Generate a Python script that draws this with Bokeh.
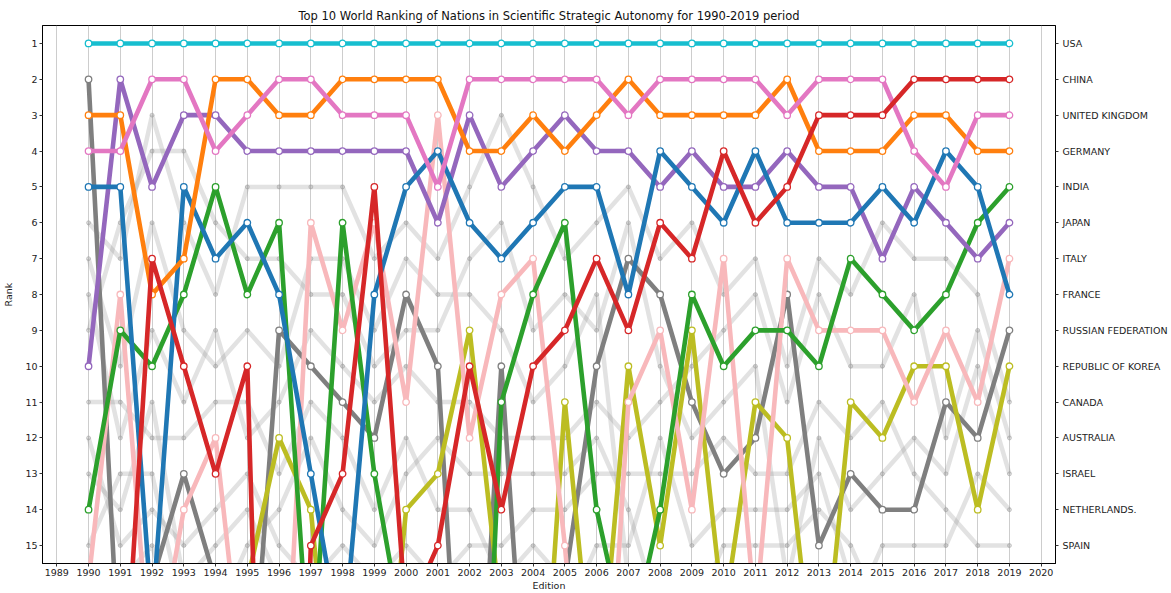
from bokeh.plotting import figure
from bokeh.models import Range1d, LinearAxis, FixedTicker
from bokeh.embed import file_html
from bokeh.resources import INLINE

years = [1990, 1991, 1992, 1993, 1994, 1995, 1996, 1997, 1998, 1999,
         2000, 2001, 2002, 2003, 2004, 2005, 2006, 2007, 2008, 2009,
         2010, 2011, 2012, 2013, 2014, 2015, 2016, 2017, 2018, 2019]

year_ticks = [1989, 1990, 1991, 1992, 1993, 1994, 1995, 1996, 1997, 1998, 1999, 2000,
              2001, 2002, 2003, 2004, 2005, 2006, 2007, 2008, 2009, 2010, 2011, 2012,
              2013, 2014, 2015, 2016, 2017, 2018, 2019, 2020]
rank_ticks = [1, 2, 3, 4, 5, 6, 7, 8, 9, 10, 11, 12, 13, 14, 15]
right_labels = ["USA", "CHINA", "UNITED KINGDOM", "GERMANY", "INDIA", "JAPAN", "ITALY",
                "FRANCE", "RUSSIAN FEDERATION", "REPUBLIC OF KOREA", "CANADA",
                "AUSTRALIA", "ISRAEL", "NETHERLANDS.", "SPAIN"]

# Top 10 (highlighted) ranks, 1990-2019
usa     = [1, 1, 1, 1, 1, 1, 1, 1, 1, 1, 1, 1, 1, 1, 1, 1, 1, 1, 1, 1, 1, 1, 1, 1, 1, 1, 1, 1, 1, 1]
china   = [22, 21, 7, 10, 13, 10, 40, 15, 13, 5, 17, 15, 10, 14, 10, 9, 7, 9, 6, 7, 4, 6, 5, 3, 3, 3, 2, 2, 2, 2]
uk      = [4, 4, 2, 2, 4, 3, 2, 2, 3, 3, 3, 5, 2, 2, 2, 2, 2, 3, 2, 2, 2, 2, 3, 2, 2, 2, 4, 5, 3, 3]
germany = [3, 3, 8, 7, 2, 2, 3, 3, 2, 2, 2, 2, 4, 4, 3, 4, 3, 2, 3, 3, 3, 3, 2, 4, 4, 4, 3, 3, 4, 4]
india   = [14, 9, 10, 8, 5, 8, 6, 19, 6, 13, 18, 25, 30, 11, 8, 6, 14, 18, 14, 8, 10, 9, 9, 10, 7, 8, 9, 8, 6, 5]
japan   = [10, 2, 5, 3, 3, 4, 4, 4, 4, 4, 4, 6, 3, 5, 4, 3, 4, 4, 5, 4, 5, 5, 4, 5, 5, 7, 5, 6, 7, 6]
italy   = [16, 8, 19, 14, 12, 20, 23, 6, 9, 6, 11, 3, 12, 8, 7, 15, 25, 11, 9, 14, 7, 17, 7, 9, 9, 9, 11, 9, 11, 7]
france  = [5, 5, 17, 5, 7, 6, 8, 13, 18, 8, 5, 4, 6, 7, 6, 5, 5, 8, 4, 5, 6, 4, 6, 6, 6, 5, 6, 4, 5, 8]
russia  = [2, 19, 16, 13, 16, 21, 9, 10, 11, 12, 8, 10, 25, 10, 23, 16, 10, 7, 8, 11, 13, 12, 8, 15, 13, 14, 14, 11, 12, 9]
korea   = [24, 22, 21, 19, 18, 16, 12, 14, 23, 23, 14, 13, 9, 17, 24, 11, 20, 10, 15, 9, 17, 11, 12, 20, 11, 12, 10, 10, 14, 10]

# Other nations (grey background), 1990-2019
canada      = [6, 7, 3, 6, 8, 5, 5, 5, 5, 7, 6, 7, 5, 3, 5, 7, 6, 5, 7, 6, 8, 7, 10, 7, 8, 6, 7, 7, 8, 11]
australia   = [8, 12, 9, 11, 9, 12, 11, 9, 10, 11, 10, 11, 11, 12, 12, 12, 11, 12, 11, 10, 9, 8, 11, 8, 10, 10, 8, 12, 9, 12]
sweden      = [9, 6, 4, 4, 6, 7, 7, 8, 8, 10, 9, 9, 7, 6, 9, 8, 9, 6, 10, 12, 11, 10, 16, 17, 18, 17, 16, 17, 17, 16]
netherlands = [7, 10, 6, 9, 10, 9, 10, 7, 7, 9, 7, 8, 8, 9, 11, 10, 8, 16, 16, 17, 16, 17, 17, 16, 17, 15, 15, 15, 13, 14]
spain       = [12, 15, 14, 15, 14, 13, 15, 16, 15, 16, 15, 16, 15, 15, 14, 14, 13, 13, 13, 13, 12, 13, 13, 11, 12, 11, 13, 14, 15, 15]
israel      = [13, 14, 11, 16, 15, 14, 16, 17, 16, 17, 16, 17, 17, 17, 17, 17, 17, 17, 17, 17, 17, 16, 16, 12, 14, 13, 12, 13, 10, 13]
switzerland = [11, 11, 12, 12, 11, 11, 13, 11, 12, 14, 12, 14, 14, 16, 15, 16, 18, 18, 18, 18, 19, 19, 19, 18, 19, 19, 20, 20, 19, 18]
taiwan      = [24, 22, 20, 20, 17, 15, 14, 12, 14, 15, 13, 12, 13, 13, 13, 13, 12, 14, 17, 16, 17, 18, 18, 19, 20, 21, 21, 22, 21, 20]
belgium     = [15, 13, 13, 17, 16, 17, 18, 18, 17, 19, 18, 19, 18, 19, 18, 18, 19, 19, 19, 20, 20, 20, 21, 20, 21, 22, 22, 21, 22, 22]
brazil      = [20, 19, 18, 19, 18, 16, 17, 19, 18, 18, 17, 18, 19, 18, 19, 17, 15, 15, 12, 15, 14, 14, 14, 13, 16, 16, 17, 16, 16, 17]
iran        = [28, 27, 26, 25, 24, 22, 21, 21, 21, 21, 20, 21, 20, 20, 20, 19, 18, 18, 18, 17, 15, 15, 15, 14, 15, 17, 18, 18, 18, 19]
poland      = [17, 16, 15, 18, 19, 18, 19, 20, 20, 20, 19, 20, 20, 21, 21, 20, 20, 20, 20, 21, 21, 21, 22, 22, 22, 20, 19, 19, 20, 21]

others = [canada, australia, sweden, netherlands, spain, israel, switzerland,
          taiwan, belgium, brazil, iran, poland]

top_series = [russia, korea, italy, india, japan, france, germany, uk, china, usa]
top_colors = ["#7f7f7f", "#bcbd22", "#f8b8bb", "#2ca02c", "#9467bd", "#1f77b4",
              "#ff7f0e", "#e377c2", "#d62728", "#17becf"]

FONT = "DejaVu Sans"

p = figure(width=1171, height=593, output_backend="svg", toolbar_location=None,
           x_range=Range1d(1988.55, 2020.45), y_range=Range1d(15.5, 0.5),
           min_border_left=42, min_border_right=116, min_border_top=25,
           min_border_bottom=27)
p.background_fill_color = "white"
p.border_fill_color = "white"
p.outline_line_color = "black"
p.outline_line_width = 1
p.outline_line_alpha = 1

p.title.text = "Top 10 World Ranking of Nations in Scientific Strategic Autonomy for 1990-2019 period"
p.title.align = "center"
p.title.text_font = FONT
p.title.text_font_size = "11.5px"
p.title.text_font_style = "normal"
p.title.text_color = "#111111"
p.title.standoff = 5

p.xaxis.ticker = FixedTicker(ticks=year_ticks)
p.xaxis.axis_label = "Edition"
p.yaxis.ticker = FixedTicker(ticks=rank_ticks)
p.yaxis.axis_label = "Rank"

for ax in [p.xaxis[0], p.yaxis[0]]:
    ax.major_label_text_font = FONT
    ax.major_label_text_font_size = "9.5px"
    ax.major_label_text_color = "#222222"
    ax.axis_label_text_font = FONT
    ax.axis_label_text_font_size = "9.5px"
    ax.axis_label_text_font_style = "normal"
    ax.axis_label_text_color = "#222222"
    ax.axis_label_standoff = 1
    ax.major_label_standoff = 2
    ax.major_tick_out = 3
    ax.major_tick_in = 0
    ax.minor_tick_out = 0
    ax.minor_tick_in = 0
    ax.axis_line_color = "black"
    ax.major_tick_line_color = "#333333"

p.yaxis[0].axis_label_standoff = 8

ra = LinearAxis(ticker=FixedTicker(ticks=rank_ticks),
                major_label_overrides={r: n for r, n in zip(rank_ticks, right_labels)})
ra.major_label_text_font = FONT
ra.major_label_text_font_size = "9.5px"
ra.major_label_text_color = "#222222"
ra.major_label_standoff = 4
ra.major_tick_out = 3
ra.major_tick_in = 0
ra.minor_tick_out = 0
ra.minor_tick_in = 0
ra.axis_line_color = "black"
ra.major_tick_line_color = "#333333"
p.add_layout(ra, "right")

p.xgrid.ticker = FixedTicker(ticks=year_ticks)
p.xgrid.grid_line_color = "#b0b0b0"
p.xgrid.grid_line_alpha = 0.8
p.xgrid.grid_line_width = 0.8
p.ygrid.visible = False

for s in others:
    p.line(years, s, line_color="#8c8c8c", line_alpha=0.25, line_width=4.5)
    p.scatter(years, s, size=4, fill_color="#a0a0a0", fill_alpha=0.35,
              line_color="#909090", line_alpha=0.4)

for s, c in zip(top_series, top_colors):
    p.line(years, s, line_color=c, line_width=4.6)
    p.scatter(years, s, size=6.5, fill_color="white", line_color=c, line_width=1.3)

open("out.html", "w").write(file_html(p, INLINE))
